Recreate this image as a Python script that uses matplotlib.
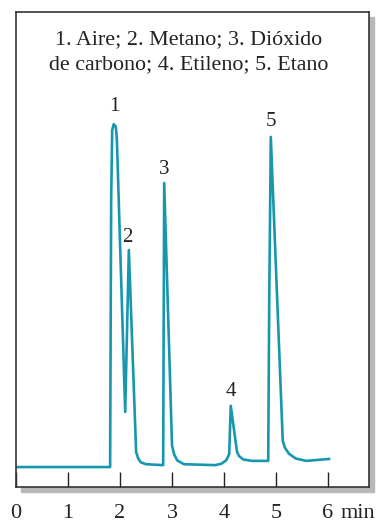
import matplotlib.pyplot as plt
from matplotlib.patches import Rectangle

# cromatograma: tiempo (min) y señal (unidades arbitrarias, 0-100)
tiempo = [0.00, 1.81, 1.83, 1.85, 1.88, 1.92, 1.94, 2.10, 2.17, 2.31, 2.35, 2.40, 2.50,
          2.83, 2.85, 3.00, 3.04, 3.10, 3.23, 3.83, 3.95, 4.04, 4.10, 4.13, 4.25, 4.29,
          4.37, 4.54, 4.85, 4.87, 4.90, 5.13, 5.17, 5.25, 5.38, 5.58, 6.02]
senal = [4.2, 4.2, 60.4, 75.2, 76.4, 75.8, 73.1, 15.8, 49.9, 7.4, 6.0, 5.2, 4.8,
         4.6, 64.0, 8.8, 6.9, 5.6, 4.8, 4.6, 4.9, 5.6, 6.9, 17.1, 7.4, 6.5,
         5.8, 5.5, 5.5, 39.4, 73.7, 9.7, 8.3, 7.0, 6.0, 5.5, 5.9]

picos = ['1', '2', '3', '4', '5']
picos_t = [1.90, 2.15, 2.85, 4.13, 4.90]
picos_y = [80.2, 52.6, 66.9, 20.0, 77.0]

ticks = [0, 1, 2, 3, 4, 5, 6]
titulo = '1. Aire; 2. Metano; 3. Dióxido\nde carbono; 4. Etileno; 5. Etano'

plt.rcParams['font.family'] = ['Liberation Serif', 'DejaVu Serif']
color = '#1797ae'

fig = plt.figure(figsize=(3.78, 5.23), dpi=100)
W, H = 378, 523
l, r, t, b = 16, 369, 12, 487
# sombra
fig.patches.append(Rectangle(((l + 5) / W, (H - b - 5) / H), (r - l) / W, (b - t) / H,
                             transform=fig.transFigure, color='#b8b8b8', zorder=0))
ax = fig.add_axes([l / W, (H - b) / H, (r - l) / W, (b - t) / H], zorder=1)
ax.set_facecolor('white')

ax.plot(tiempo, senal, color=color, lw=1.9, solid_joinstyle='round')
for p, x, y in zip(picos, picos_t, picos_y):
    ax.text(x, y, p, ha='center', va='center', fontsize=15, color='#222222')

ax.text(0.49, 0.915, titulo, transform=ax.transAxes, ha='center', va='center',
        fontsize=15.8, linespacing=1.45, color='#222222')

ax.set_xlim(0, (r - l) / 52)
ax.set_ylim(0, 100)
ax.set_xticks(ticks)
ax.set_xticklabels([str(v) for v in ticks])
ax.tick_params(axis='x', direction='in', length=11, width=1, pad=12, labelsize=16,
               colors='#222222')
ax.set_yticks([])
ax.annotate('min', xy=(6.25, 0), xycoords=('data', 'axes fraction'), xytext=(0, -12),
            textcoords='offset points', ha='left', va='top', fontsize=16,
            color='#222222', annotation_clip=False)
for s in ax.spines.values():
    s.set_linewidth(1.2)
    s.set_color('#333333')

fig.savefig('out.png', dpi=100)
